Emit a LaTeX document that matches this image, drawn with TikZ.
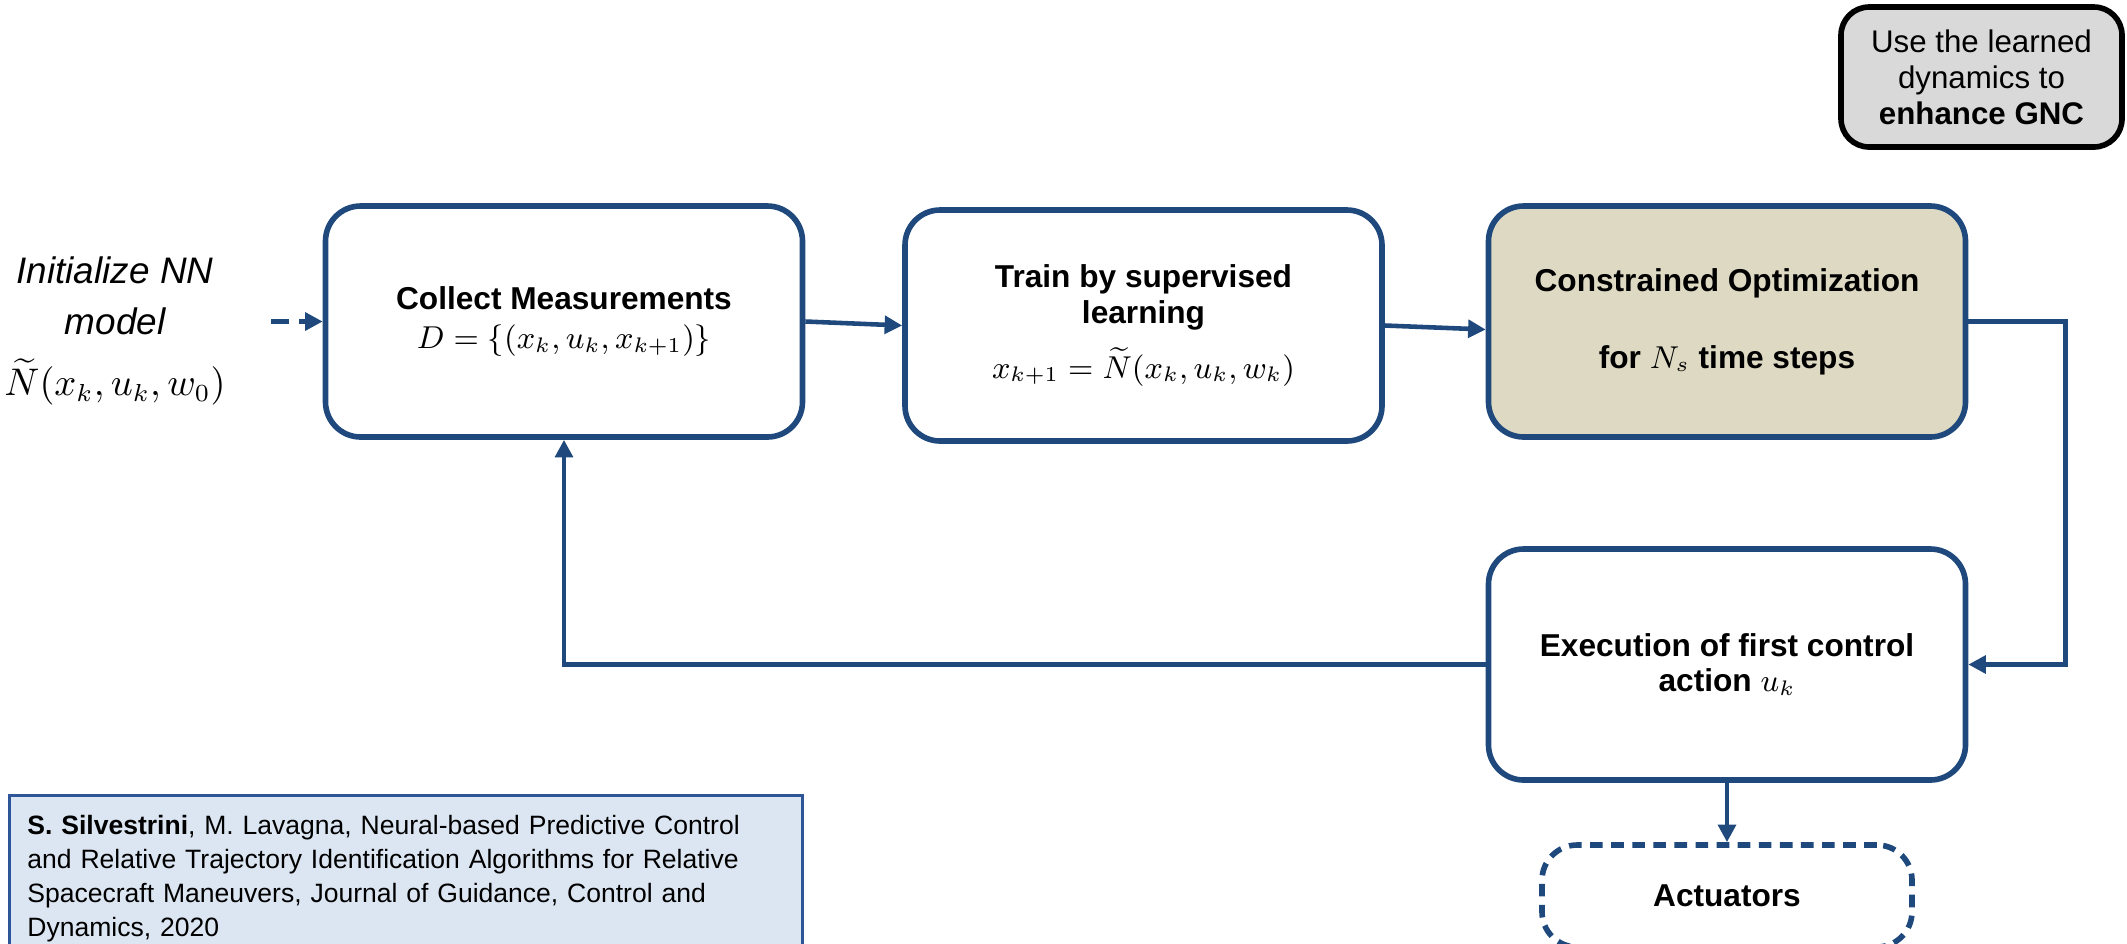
\documentclass[tikz,border=0pt]{standalone}
\usepackage{amsmath,amssymb}
\usepackage{fontspec}
\setmainfont{Liberation Sans}
\usepackage{tikz}
\usetikzlibrary{arrows.meta,calc,positioning}
\definecolor{loopblue}{HTML}{1F497D}
\definecolor{optimtan}{HTML}{DDD9C3}
\definecolor{citeblue}{HTML}{DCE6F2}
\definecolor{citeedge}{HTML}{2E5597}
\definecolor{gncgray}{HTML}{D9D9D9}

\begin{document}
\begin{tikzpicture}[>={Triangle[length=5pt,width=5pt]},
    procbox/.style={draw=loopblue,line width=1.6pt,rounded corners=10pt,
      minimum width=4.77cm,minimum height=2.31cm,align=center,
      font=\fontsize{9}{10}\selectfont\bfseries},
    flow/.style={->,draw=loopblue,line width=1.3pt}]
  \useasboundingbox (0,0) rectangle (21.27,-9.43);

  % Starting point of the loop.
  \node[align=center,font=\fontsize{10.5}{14.5}\selectfont\itshape] (init)
    at (1.15,-3.31) {Initialize NN\\model\\[3pt]$\widetilde{N}(x_k,u_k,w_0)$};
  \coordinate (initout) at (2.71,-3.215);

  % Learning and control loop.
  \node[procbox] (collect) at (5.64,-3.215)
    {Collect Measurements\\[1pt]$D=\{(x_k,u_k,x_{k+1})\}$};
  \node[procbox] (train) at (11.435,-3.255)
    {Train by supervised\\learning\\[4pt]$x_{k+1}=\widetilde{N}(x_k,u_k,w_k)$};
  \node[procbox,fill=optimtan] (optim) at (17.27,-3.215)
    {Constrained Optimization\\[12pt]for $N_s$ time steps};
  \node[procbox] (execute) at (17.27,-6.645)
    {Execution of first control\\action $u_k$};
  \node[procbox,dash pattern=on 3.6pt off 2.4pt,minimum width=3.7cm,
    minimum height=1.02cm] (actuators) at (17.27,-8.96) {Actuators};

  \draw[flow,dash pattern=on 5pt off 3pt] (initout) -- (collect.west);
  \draw[flow] (collect.east) -- (train.west);
  \draw[flow] (train.east) -- ([yshift=-0.08cm]optim.west);
  \draw[flow] (optim.east) -- ++(0.97,0) |- (execute.east);
  \draw[flow] (execute.west) -| (collect.south);
  \draw[flow] (execute.south) -- (actuators.north);

  % Side notes.
  \node[draw=black,line width=1.6pt,fill=gncgray,rounded corners=8pt,
    minimum width=2.81cm,minimum height=1.40cm,align=center,
    font=\fontsize{8.9}{10.2}\selectfont] (gnc) at (19.815,-0.77)
    {Use the learned\\dynamics to\\\textbf{enhance GNC}};
  \node[draw=citeedge,line width=0.8pt,fill=citeblue,anchor=north west,
    text width=7.57cm,inner xsep=0.18cm,minimum height=1.66cm,align=left,
    font=\fontsize{7.55}{9.7}\selectfont] (cite) at (0.08,-7.94)
    {\textbf{S. Silvestrini}, M. Lavagna, Neural-based Predictive Control\\
     and Relative Trajectory Identification Algorithms for Relative\\
     Spacecraft Maneuvers, Journal of Guidance, Control and\\
     Dynamics, 2020};
\end{tikzpicture}
\end{document}
